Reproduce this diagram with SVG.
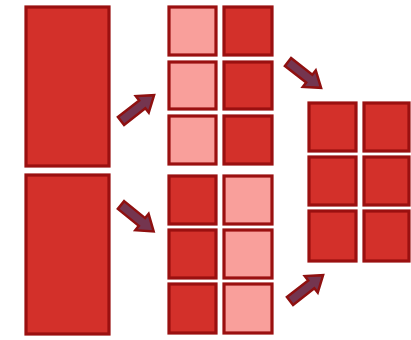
<svg xmlns="http://www.w3.org/2000/svg" width="411" height="340" viewBox="0 0 411 340">
<defs>
<style>
.b{fill:#d3302a;stroke:#9a1010;stroke-width:3.2}
.l{fill:#f99f9b;stroke:#9a1010;stroke-width:3.2}
.a{fill:#74354f;stroke:#8f1010;stroke-width:2.5;stroke-linejoin:miter}
</style>
<polygon id="arr" class="a" points="0,-5 27,-5 27,-10.5 42,0 27,10.5 27,5 0,5"/>
</defs>
<rect width="411" height="340" fill="#ffffff"/>
<g id="left-top"><rect class="b" x="26" y="7" width="83" height="159"/></g>
<g id="left-bottom"><rect class="b" x="26" y="175" width="83" height="159"/></g>
<g id="grid-top">
<rect class="l" x="169" y="7" width="47" height="48"/>
<rect class="b" x="224" y="7" width="48" height="48"/>
<rect class="l" x="169" y="62" width="47" height="47"/>
<rect class="b" x="224" y="62" width="48" height="47"/>
<rect class="l" x="169" y="116" width="47" height="48"/>
<rect class="b" x="224" y="116" width="48" height="48"/>
</g>
<g id="grid-bottom">
<rect class="b" x="169" y="176" width="47" height="48"/>
<rect class="l" x="224" y="176" width="48" height="48"/>
<rect class="b" x="169" y="230" width="47" height="48"/>
<rect class="l" x="224" y="230" width="48" height="48"/>
<rect class="b" x="169" y="284" width="47" height="49"/>
<rect class="l" x="224" y="284" width="48" height="49"/>
</g>
<g id="grid-right">
<rect class="b" x="309" y="103" width="47" height="48"/>
<rect class="b" x="364" y="103" width="45" height="48"/>
<rect class="b" x="309" y="157" width="47" height="48"/>
<rect class="b" x="364" y="157" width="45" height="48"/>
<rect class="b" x="309" y="211" width="47" height="50"/>
<rect class="b" x="364" y="211" width="45" height="50"/>
</g>
<g id="connectors">
<use href="#arr" transform="translate(121,121) rotate(-38)"/>
<use href="#arr" transform="translate(121,205) rotate(39)"/>
<use href="#arr" transform="translate(288,62) rotate(38)"/>
<use href="#arr" transform="translate(290,301) rotate(-38)"/>
</g>
</svg>
